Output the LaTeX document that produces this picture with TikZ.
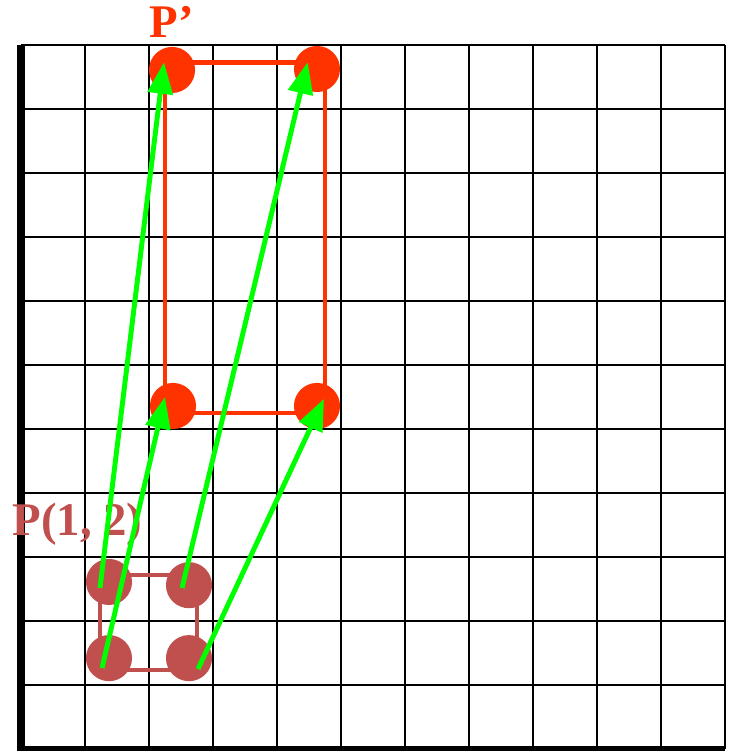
\documentclass[tikz,border=0pt]{standalone}
\usepackage{fontspec}
\setmainfont{Liberation Serif}
\usetikzlibrary{arrows.meta}
\definecolor{pointred}{HTML}{C0504D}
\definecolor{imagered}{HTML}{FF3300}
\definecolor{movegreen}{HTML}{00FF00}

\begin{document}
\begin{tikzpicture}[
    dot/.style={circle, inner sep=0pt, minimum size=0.72cm},
    move/.style={movegreen, line width=2.2pt, -{Triangle[length=14pt, width=11pt]}},
    label/.style={anchor=base, font=\fontsize{20.8}{25}\selectfont\bfseries}
]
    \useasboundingbox (-0.328,-0.031) rectangle (11.047,11.703);
    % Grid
    \draw[line width=1.1pt] (0,0) grid (11,11);
    % Axes
    \draw[line width=3.5pt] (0,11) -- (0,-0.1);
    \draw[line width=3pt] (0,0) -- (11,0);
    % Original square
    \draw[pointred, line width=1.8pt] (1.234,1.234) rectangle (2.75,2.72);
    \node[dot, fill=pointred] (p1) at (1.375,1.42) {};
    \node[dot, fill=pointred] (p2) at (2.625,1.42) {};
    \node[dot, fill=pointred] (p3) at (1.375,2.61) {};
    \node[dot, fill=pointred] (p4) at (2.625,2.56) {};
    % Scaled rectangle
    \draw[imagered, line width=2.2pt] (2.25,5.25) rectangle (4.75,10.73);
    \node[dot, fill=imagered] (q1) at (2.375,5.36) {};
    \node[dot, fill=imagered] (q2) at (4.625,5.36) {};
    \node[dot, fill=imagered] (q3) at (2.36,10.61) {};
    \node[dot, fill=imagered] (q4) at (4.625,10.625) {};
    % Labels
    \node[label, text=imagered] (pimg) at (2.36,11.11) {P’};
    \node[label, text=pointred] (porig) at (0.883,3.34) {P(1, 2)};
    % Ends of the moves
    \coordinate (t1) at (1.266,1.266);
    \coordinate (h1) at (2.25,5.5);
    \coordinate (t2) at (2.766,1.25);
    \coordinate (h2) at (4.734,5.47);
    \coordinate (t3) at (1.234,2.516);
    \coordinate (h3) at (2.234,10.73);
    \coordinate (t4) at (2.516,2.516);
    \coordinate (h4) at (4.48,10.73);
    % Moves
    \draw[move] (t1) -- (h1);
    \draw[move] (t2) -- (h2);
    \draw[move] (t3) -- (h3);
    \draw[move] (t4) -- (h4);
\end{tikzpicture}
\end{document}
